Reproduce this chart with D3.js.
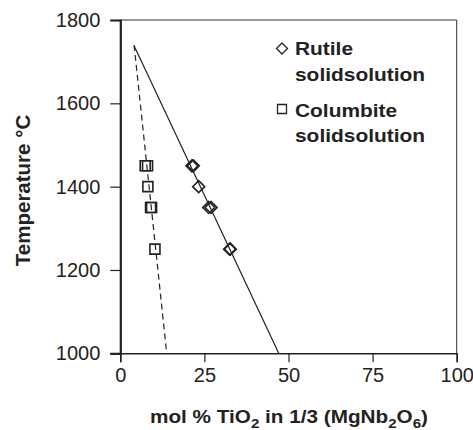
<!DOCTYPE html>
<html><head><meta charset="utf-8">
<script src="https://cdn.jsdelivr.net/npm/d3@7"></script>
<style>body{margin:0;background:#fff}svg{display:block}text{font-family:"Liberation Sans",Arial,sans-serif;fill:#222}</style>
</head><body>
<svg id="c" width="473" height="430"></svg>
<script>
const xTicks = [0, 25, 50, 75, 100];
const yTicks = [1000, 1200, 1400, 1600, 1800];
const rutileX = [21.3, 21.7, 23.3, 26.3, 27.0, 32.5, 32.7];
const rutileT = [1450, 1450, 1400, 1350, 1350, 1250, 1250];
const columbiteX = [7.4, 8.1, 8.2, 9.0, 9.3, 10.3];
const columbiteT = [1450, 1450, 1400, 1350, 1350, 1250];
const rutileLineX = [4.1, 47.1];
const rutileLineT = [1738, 1000];
const columbiteLineX = [4.1, 13.8];
const columbiteLineT = [1740, 1000];
const legendLabels = [["Rutile", "solidsolution"], ["Columbite", "solidsolution"]];

const svg = d3.select("#c");
const L = 120.3, R = 456.7, T = 20, B = 353.3;
const x = d3.scaleLinear().domain([0, 100]).range([L, R]);
const y = d3.scaleLinear().domain([1000, 1800]).range([B, T]);

// frame
svg.append("line").attr("x1", L).attr("x2", R).attr("y1", T).attr("y2", T).attr("stroke", "#333").attr("stroke-width", 1);
svg.append("line").attr("x1", R).attr("x2", R).attr("y1", T).attr("y2", B).attr("stroke", "#333").attr("stroke-width", 1);

const xa = svg.append("g").attr("transform", `translate(0,${B})`)
  .call(d3.axisBottom(x).tickValues(xTicks).tickSize(9).tickPadding(6).tickFormat(d3.format("d")));
xa.select(".domain").attr("stroke", "#222").attr("stroke-width", 1.5);
xa.selectAll(".tick line").attr("stroke", "#222").attr("stroke-width", 1.2);
xa.selectAll("text").style("font-size", "20px").attr("fill", "#222");

const ya = svg.append("g").attr("transform", `translate(${L},0)`)
  .call(d3.axisLeft(y).tickValues(yTicks).tickSize(10).tickPadding(10).tickFormat(d3.format("d")));
ya.select(".domain").attr("stroke", "#222").attr("stroke-width", 2.2);
ya.selectAll(".tick line").attr("stroke", "#222").attr("stroke-width", 1.2);
ya.selectAll("text").style("font-size", "20px").attr("fill", "#222");

// lines
const line = d3.line().x(d => x(d[0])).y(d => y(d[1]));
svg.append("path").datum(rutileLineX.map((v, i) => [v, rutileLineT[i]]))
  .attr("d", line).attr("fill", "none").attr("stroke", "#222").attr("stroke-width", 1.2);
svg.append("path").datum(columbiteLineX.map((v, i) => [v, columbiteLineT[i]]))
  .attr("d", line).attr("fill", "none").attr("stroke", "#222").attr("stroke-width", 1.2).attr("stroke-dasharray", "6,4");

// markers
const diamond = s => `M0,${-s}L${s},0L0,${s}L${-s},0Z`;
const square = s => `M${-s},${-s}H${s}V${s}H${-s}Z`;
svg.append("g").selectAll("path").data(rutileX.map((v, i) => [v, rutileT[i]])).join("path")
  .attr("d", diamond(6)).attr("transform", d => `translate(${x(d[0])},${y(d[1])})`)
  .attr("fill", "none").attr("stroke", "#222").attr("stroke-width", 1.6);
svg.append("g").selectAll("path").data(columbiteX.map((v, i) => [v, columbiteT[i]])).join("path")
  .attr("d", square(5)).attr("transform", d => `translate(${x(d[0])},${y(d[1])})`)
  .attr("fill", "none").attr("stroke", "#222").attr("stroke-width", 1.6);

// legend
const lg = svg.append("g");
lg.append("path").attr("d", diamond(5.5)).attr("transform", "translate(282,48.5)").attr("fill", "none").attr("stroke", "#222").attr("stroke-width", 1.3);
lg.append("path").attr("d", square(4.5)).attr("transform", "translate(282,109)").attr("fill", "none").attr("stroke", "#222").attr("stroke-width", 1.3);
const lyBase = [[55, 80.5], [116.5, 142]];
legendLabels.forEach((lines, i) => {
  lines.forEach((t, j) => {
    lg.append("text").attr("transform", `translate(295,${lyBase[i][j]}) scale(1.1,1)`).text(t)
      .style("font-size", "19px").style("font-weight", "bold");
  });
});

// axis titles
const xt = svg.append("text").attr("transform", "translate(289,423) scale(1.12,1)").attr("text-anchor", "middle")
  .style("font-size", "18.5px").style("font-weight", "bold");
xt.append("tspan").text("mol % TiO");
xt.append("tspan").text("2").attr("dy", 5).style("font-size", "13.5px");
xt.append("tspan").text(" in 1/3 (MgNb").attr("dy", -5);
xt.append("tspan").text("2").attr("dy", 5).style("font-size", "13.5px");
xt.append("tspan").text("O").attr("dy", -5);
xt.append("tspan").text("6").attr("dy", 5).style("font-size", "13.5px");
xt.append("tspan").text(")").attr("dy", -5);

svg.append("text").attr("transform", `translate(30,190.5) rotate(-90)`).attr("text-anchor", "middle")
  .style("font-size", "20.5px").style("font-weight", "bold").text("Temperature °C");
</script>
</body></html>
